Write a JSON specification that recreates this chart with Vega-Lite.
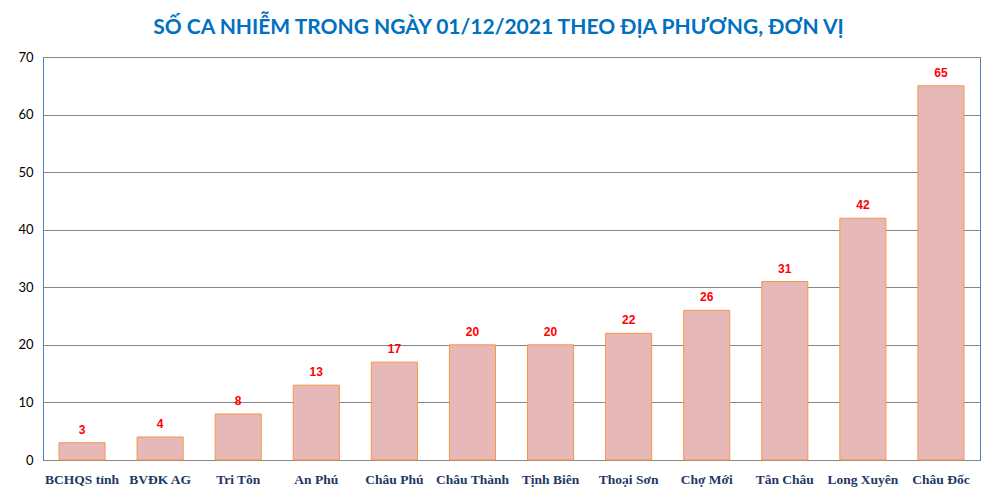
{
  "$schema": "https://vega.github.io/schema/vega-lite/v6.json",
  "width": 937,
  "height": 403,
  "autosize": {"type": "none"},
  "padding": {"left": 43, "top": 57, "right": 17, "bottom": 44},
  "background": "white",
  "title": {
    "text": "SỐ CA NHIỄM TRONG NGÀY 01/12/2021 THEO ĐỊA PHƯƠNG, ĐƠN VỊ",
    "font": "Lato",
    "fontSize": 21,
    "fontWeight": "bold",
    "color": "#0070C0",
    "anchor": "middle",
    "dx": -13,
    "offset": 13
  },
  "config": {
    "view": {"stroke": "#4F81BD", "strokeWidth": 1}
  },
  "data": {
    "values": [
      {"name": "BCHQS  tỉnh", "value": 3},
      {"name": "BVĐK AG", "value": 4},
      {"name": "Tri Tôn", "value": 8},
      {"name": "An Phú", "value": 13},
      {"name": "Châu Phú", "value": 17},
      {"name": "Châu Thành", "value": 20},
      {"name": "Tịnh Biên", "value": 20},
      {"name": "Thoại  Sơn", "value": 22},
      {"name": "Chợ Mới", "value": 26},
      {"name": "Tân Châu", "value": 31},
      {"name": "Long Xuyên", "value": 42},
      {"name": "Châu Đốc", "value": 65}
    ]
  },
  "encoding": {
    "x": {
      "field": "name",
      "type": "nominal",
      "sort": null,
      "scale": {"paddingInner": 0.41, "paddingOuter": 0.205},
      "axis": {
        "title": null,
        "labelAngle": 0,
        "labelFont": "Liberation Serif",
        "labelFontWeight": "bold",
        "labelFontSize": 13.5,
        "labelColor": "#1F3864",
        "labelPadding": 12,
        "ticks": false,
        "domainColor": "#868686",
        "labelOverlap": false
      }
    },
    "y": {
      "field": "value",
      "type": "quantitative",
      "scale": {"domain": [0, 70]},
      "axis": {
        "title": null,
        "values": [0, 10, 20, 30, 40, 50, 60, 70],
        "labelFont": "Lato",
        "labelFontSize": 13,
        "labelColor": "#000000",
        "labelPadding": 10,
        "ticks": false,
        "domain": false,
        "gridColor": "#868686",
        "gridWidth": 1
      }
    }
  },
  "layer": [
    {
      "mark": {"type": "bar", "fill": "#E6B9B8", "stroke": "#F79646", "strokeWidth": 1}
    },
    {
      "mark": {"type": "text", "baseline": "bottom", "dy": -6, "font": "Liberation Sans", "fontWeight": "bold", "fontSize": 12, "color": "#FF0000"},
      "encoding": {"text": {"field": "value", "type": "quantitative"}}
    }
  ]
}
